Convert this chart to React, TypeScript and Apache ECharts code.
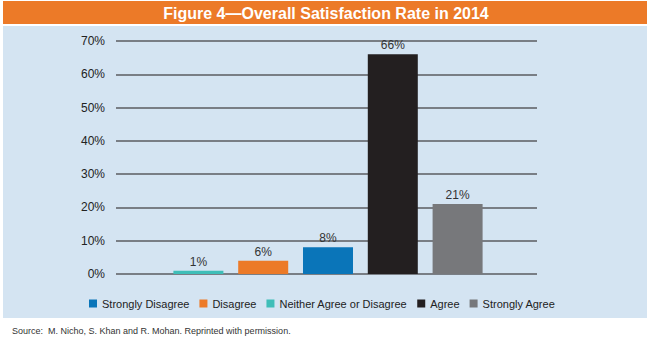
import React, { useEffect, useRef } from "react";
import * as echarts from "echarts";

const titleText = "Figure 4\u2014Overall Satisfaction Rate in 2014";
const sourceText = "Source:  M. Nicho, S. Khan and R. Mohan. Reprinted with permission.";
const legendNames = ["Strongly Disagree", "Disagree", "Neither Agree or Disagree", "Agree", "Strongly Agree"];
const barValues = [8, 4, 1, 66, 21];
const barLabels = ["8%", "6%", "1%", "66%", "21%"];
const barSlots = [2, 1, 0, 3, 4];
const slotCategories = ["s0", "s1", "s2", "s3", "s4"];
const barColors = ["#0a75b9", "#ec7a28", "#3fbeb8", "#231f20", "#77787b"];
const yTicks = [0, 10, 20, 30, 40, 50, 60, 70];

const FONT = "'Liberation Sans Narrow', 'Arial Narrow', 'Liberation Sans', sans-serif";

export default function App() {
  const ref = useRef<HTMLDivElement>(null);
  useEffect(() => {
    if (!ref.current) return;
    const chart = echarts.init(ref.current, undefined, { renderer: "svg" });
    const series = legendNames.map((name, i) => ({
      name,
      type: "bar",
      xAxisIndex: 1,
      yAxisIndex: 1,
      barWidth: 50,
      barGap: "-100%",
      itemStyle: { color: barColors[i] },
      label: {
        show: true,
        position: "top",
        distance: 3,
        formatter: () => barLabels[i],
        fontFamily: FONT,
        fontSize: 12,
        color: "#333",
      },
      data: slotCategories.map((_, s) => (s === barSlots[i] ? barValues[i] : "-")),
    }));
    chart.setOption({
      animation: false,
      backgroundColor: "#ffffff",
      textStyle: { fontFamily: FONT },
      graphic: [
        { type: "rect", z: -10, shape: { x: 3, y: 26, width: 644, height: 292 }, style: { fill: "#d4e4f2" } },
        { type: "rect", z: -10, shape: { x: 3, y: 1, width: 644, height: 23 }, style: { fill: "#ec7a28" } },
        {
          type: "text",
          x: 326,
          y: 13,
          style: {
            text: titleText,
            fill: "#ffffff",
            font: `bold 16px ${FONT}`,
            textAlign: "center",
            textVerticalAlign: "middle",
          },
        },
        {
          type: "text",
          x: 12,
          y: 331,
          style: {
            text: sourceText,
            fill: "#333333",
            font: `9px ${FONT}`,
            textAlign: "left",
            textVerticalAlign: "middle",
          },
        },
      ],
      legend: {
        data: legendNames,
        left: 84,
        top: 293,
        itemWidth: 8,
        itemHeight: 8,
        itemGap: 10,
        icon: "rect",
        textStyle: { fontFamily: FONT, fontSize: 11, color: "#222" },
      },
      grid: [
        { left: 116, right: 113, top: 41, bottom: 65 },
        { left: 166, width: 324, top: 41, bottom: 65 },
      ],
      xAxis: [
        { type: "value", gridIndex: 0, show: false, min: 0, max: 1 },
        { type: "category", gridIndex: 1, data: slotCategories, show: false },
      ],
      yAxis: [
        {
          type: "value",
          gridIndex: 0,
          min: yTicks[0],
          max: yTicks[yTicks.length - 1],
          interval: 10,
          axisLine: { show: false },
          axisTick: { show: false },
          axisLabel: { formatter: "{value}%", fontFamily: FONT, fontSize: 12, color: "#222", margin: 11 },
          splitLine: { show: true, lineStyle: { color: "#5b5d60", width: 1.5 } },
        },
        { type: "value", gridIndex: 1, min: 0, max: 70, show: false, splitLine: { show: false } },
      ],
      series,
    });
    return () => chart.dispose();
  }, []);
  return (
    <div
      ref={ref}
      style={{ position: "fixed", left: 0, top: 0, width: 650, height: 339 }}
    />
  );
}
